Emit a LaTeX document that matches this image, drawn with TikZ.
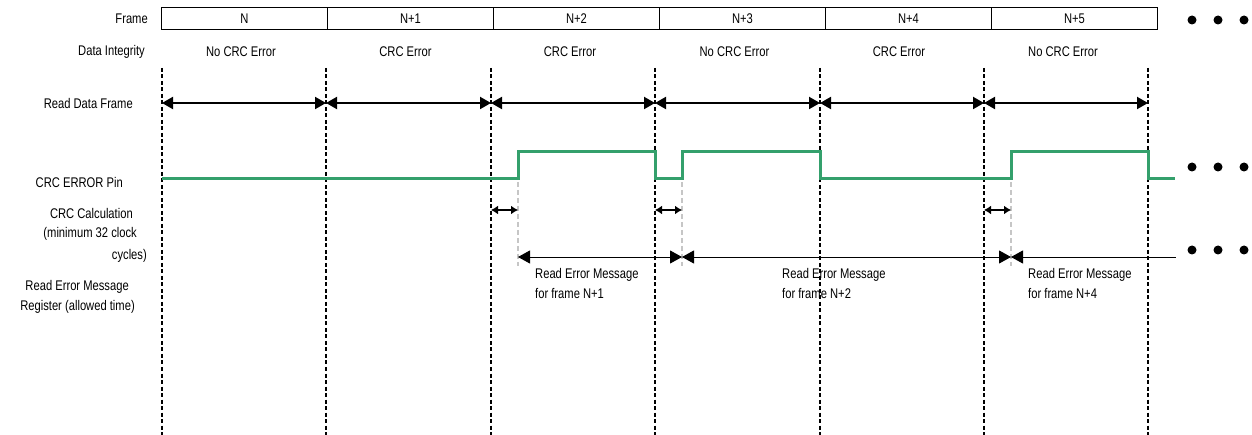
\documentclass[tikz,border=0pt]{standalone}
\usepackage{fontspec}
\setmainfont[FakeStretch=0.8]{Liberation Sans}
\usetikzlibrary{arrows.meta,calc}
\definecolor{pingreen}{RGB}{52,160,108}

\begin{document}
\begin{tikzpicture}[x=1pt,y=-1pt,font=\fontsize{14}{20}\selectfont,
  lbl/.style={anchor=east,inner sep=0pt},
  framebox/.style={draw,line width=1pt,minimum width=166pt,minimum height=22pt,inner sep=0pt,anchor=west},
  cutline/.style={line width=1.6pt,dash pattern=on 4pt off 2.5pt},
  greyline/.style={gray!45,line width=1.6pt,dash pattern=on 5pt off 3pt},
  framearrow/.style={line width=2pt,{Triangle[length=11pt,width=12pt]}-{Triangle[length=11pt,width=12pt]}},
  calcarrow/.style={line width=2.4pt,{Latex[length=7pt,width=9pt]}-{Latex[length=7pt,width=9pt]}},
  msgarrow/.style={line width=0.9pt},
  pin/.style={pingreen,line width=3pt}]
  \useasboundingbox (0,0) rectangle (1252,435);

  % Row labels
  \node[lbl] (lframe) at (148,19) {Frame};
  \node[lbl] (lint) at (145,52) {Data Integrity};
  \node[lbl] (lread) at (133,103) {Read Data Frame};
  \node[lbl] (lpin) at (123,182) {CRC ERROR Pin};
  \node[lbl] (lcalc1) at (133,213) {CRC Calculation};
  \node[lbl] (lcalc2) at (137,234) {(minimum 32 clock};
  \node[lbl] (lcalc3) at (147,256) {cycles)};
  \node[lbl] (lmsg1) at (129,287) {Read Error Message};
  \node[lbl] (lmsg2) at (135,307) {Register (allowed time)};

  % Frame boxes
  \foreach \t [count=\i from 0] in {N,N+1,N+2,N+3,N+4,N+5}
    \node[framebox] (f\i) at ({161+166*\i},19) {\t};

  % Frame borders, dashed
  \foreach \x [count=\i from 0] in {162,326,491,655,820,984,1148}{
    \coordinate (top\i) at (\x,68);
    \coordinate (bot\i) at (\x,435);
    \coordinate (rd\i) at (\x,103);
    \draw[cutline] (top\i) -- (bot\i);
  }

  % Data integrity
  \foreach \t [count=\i from 0] in {No CRC Error,CRC Error,CRC Error,No CRC Error,CRC Error,No CRC Error}{
    \pgfmathtruncatemacro\j{\i+1}
    \node (di\i) at ($(top\i)!0.5!(top\j)+(-3,-16)$) {\t};
  }

  % Read data frame arrows
  \foreach \i [evaluate=\i as \j using int(\i+1)] in {0,...,5}
    \draw[framearrow] (rd\i) -- (rd\j);

  % CRC error pin
  \draw[pin] (162,179) -- (518,179) -- (518,152) -- (655,152) -- (655,179)
    -- (682,179) -- (682,152) -- (820,152) -- (820,179) -- (1011,179)
    -- (1011,152) -- (1148,152) -- (1148,179) -- (1175,179);

  % Calculation windows and read windows
  \foreach \x [count=\i] in {518,682,1011}{
    \coordinate (g\i) at (\x,182);
    \coordinate (h\i) at (\x,266);
    \coordinate (c\i) at (\x,210);
    \coordinate (m\i) at (\x,257);
    \draw[greyline] (g\i) -- (h\i);
  }
  \coordinate (c0a) at (491,210);
  \coordinate (c0b) at (655,210);
  \coordinate (c0c) at (984,210);
  \coordinate (mend) at (1176,257);
  \draw[calcarrow] (c0a) -- (c1);
  \draw[calcarrow] (c0b) -- (c2);
  \draw[calcarrow] (c0c) -- (c3);
  \draw[msgarrow,{Triangle[length=12pt,width=13pt]}-{Triangle[length=12pt,width=13pt]}] (m1) -- (m2);
  \draw[msgarrow,{Triangle[length=12pt,width=13pt]}-{Triangle[length=12pt,width=13pt]}] (m2) -- (m3);
  \draw[msgarrow,{Triangle[length=12pt,width=13pt]}-] (m3) -- (mend);

  \node[anchor=north west,align=left,inner sep=0pt] (t1) at (535,268) {Read Error Message\\for frame N+1};
  \node[anchor=north west,align=left,inner sep=0pt] (t2) at (782,268) {Read Error Message\\for frame N+2};
  \node[anchor=north west,align=left,inner sep=0pt] (t3) at (1028,268) {Read Error Message\\for frame N+4};

  % Continuation dots
  \foreach \y in {20,167,250}
    \foreach \x in {1192,1218,1244}
      \fill (\x,\y) circle (4.5pt);
\end{tikzpicture}
\end{document}
